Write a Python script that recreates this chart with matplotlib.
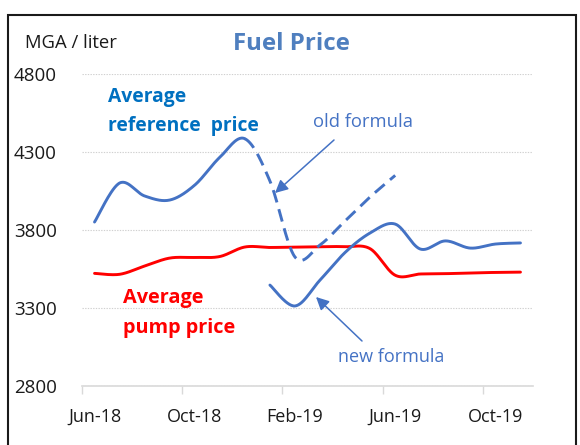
import numpy as np
import matplotlib
matplotlib.use("Agg")
import matplotlib.pyplot as plt
from matplotlib.patches import Rectangle

# ---- data (monthly, Jun-18 .. Nov-19) ----
months = ["Jun-18", "Jul-18", "Aug-18", "Sep-18", "Oct-18", "Nov-18", "Dec-18",
          "Jan-19", "Feb-19", "Mar-19", "Apr-19", "May-19", "Jun-19", "Jul-19",
          "Aug-19", "Sep-19", "Oct-19", "Nov-19"]
# average reference price, old formula: Jun-18 .. Jun-19 (dashed from Dec-18 on)
ref_old = [3851, 4101, 4018, 3992, 4088, 4266, 4385, 4114, 3627, 3704, 3858, 4012, 4150]
old_dashed_from = "Dec-18"
# average reference price, new formula: Jan-19 .. Nov-19
ref_new = [3447, 3313, 3479, 3656, 3781, 3838, 3678, 3730, 3684, 3710, 3717]
# average pump price: Jun-18 .. Nov-19
pump = [3522, 3516, 3569, 3620, 3624, 3630, 3691, 3688, 3691, 3693, 3693,
        3680, 3510, 3518, 3520, 3525, 3528, 3530]
tick_labels = ["Jun-18", "Oct-18", "Feb-19", "Jun-19", "Oct-19"]
y_ticks = [2800, 3300, 3800, 4300, 4800]

W, H = 580, 445
fig = plt.figure(figsize=(W / 100, H / 100), dpi=100)
plt.rcParams['font.family'] = ['Open Sans', 'DejaVu Sans']

L, R, T, B = 82, 533, 74, 386
ax = fig.add_axes([L / W, 1 - B / H, (R - L) / W, (B - T) / H])

def month_x(start_idx, n):
    # Excel date axis: points at the middle of each month
    return np.arange(start_idx, start_idx + n) + 0.5

def excel_smooth(x, y, n=30):
    x = np.asarray(x, float); y = np.asarray(y, float)
    P = np.column_stack([x, y])
    out = [P[0]]
    t = np.linspace(0, 1, n)[1:, None]
    for i in range(len(P) - 1):
        p0 = P[i - 1] if i > 0 else P[i]
        p1, p2 = P[i], P[i + 1]
        p3 = P[i + 2] if i + 2 < len(P) else P[i + 1]
        c1 = p1 + (p2 - p0) / 6.0
        c2 = p2 - (p3 - p1) / 6.0
        seg = ((1 - t) ** 3) * p1 + 3 * ((1 - t) ** 2) * t * c1 + 3 * (1 - t) * t ** 2 * c2 + t ** 3 * p2
        out.extend(seg)
    out = np.array(out)
    return out[:, 0], out[:, 1]

blue = '#4472C4'
red = '#FF0000'
lw = 2.1

sx, sy = excel_smooth(month_x(0, len(pump)), pump)
ax.plot(sx, sy, color=red, lw=lw, solid_capstyle='round', solid_joinstyle='round', zorder=3)

sx, sy = excel_smooth(month_x(0, len(ref_old)), ref_old)
split = months.index(old_dashed_from) + 0.5
m1 = sx <= split
m2 = sx >= split
ax.plot(sx[m1], sy[m1], color=blue, lw=lw, solid_capstyle='round', solid_joinstyle='round', zorder=4)
ax.plot(sx[m2], sy[m2], color=blue, lw=lw, dashes=(4.4, 2.4), zorder=4)

sx, sy = excel_smooth(month_x(months.index("Jan-19"), len(ref_new)), ref_new)
ax.plot(sx, sy, color=blue, lw=lw, solid_capstyle='round', solid_joinstyle='round', zorder=4)

ax.set_xlim(0, len(months))
ax.set_ylim(y_ticks[0], y_ticks[-1])
ax.set_yticks(y_ticks)
ax.set_yticklabels([str(v) for v in y_ticks])
ax.tick_params(axis='y', length=0, pad=18, labelsize=13.5, labelcolor='#1a1a1a')
ax.yaxis.grid(True, color='#D0D0D0', linestyle=(0, (1.2, 1.2)), lw=0.8)
ax.set_axisbelow(True)

tick_idx = [months.index(m) for m in tick_labels]
ax.set_xticks(tick_idx)
ax.set_xticklabels([''] * len(tick_idx))
ax.set_xticks([i + 0.5 for i in tick_idx], minor=True)
ax.set_xticklabels(tick_labels, minor=True)
ax.tick_params(axis='x', which='major', length=6, width=1, color='#D9D9D9', direction='out')
ax.tick_params(axis='x', which='minor', length=0, pad=16, labelsize=13, labelcolor='#1a1a1a')

for s in ['top', 'right', 'left']:
    ax.spines[s].set_visible(False)
ax.spines['bottom'].set_color('#D9D9D9')
ax.spines['bottom'].set_linewidth(1.2)

def fx(px):
    return px / W

def fy(py):
    return 1 - py / H

fig.text(fx(25), fy(43), "MGA / liter", fontsize=13.3, color='#1a1a1a', va='center', ha='left')
fig.text(fx(291), fy(44), "Fuel Price", fontsize=17.3, fontweight='bold', color='#4F7FBF',
         va='center', ha='center')

fig.text(fx(108), fy(102), "Average", fontsize=13.9, fontweight='bold', color='#0070C0',
         va='baseline', ha='left')
fig.text(fx(108), fy(131), "reference  price", fontsize=13.9, fontweight='bold', color='#0070C0',
         va='baseline', ha='left')
fig.text(fx(123), fy(303), "Average", fontsize=14.3, fontweight='bold', color=red,
         va='baseline', ha='left')
fig.text(fx(123), fy(333), "pump price", fontsize=14.3, fontweight='bold', color=red,
         va='baseline', ha='left')

fig.text(fx(313), fy(127), "old formula", fontsize=13.2, color=blue, va='baseline', ha='left')
fig.text(fx(338), fy(362), "new formula", fontsize=13.0, color=blue, va='baseline', ha='left')

arrow_props = dict(arrowstyle='-|>,head_length=0.7,head_width=0.35', lw=1.1, color=blue,
                   mutation_scale=11, shrinkA=0, shrinkB=0)
ax.annotate('', xy=(275, H - 193), xycoords='figure pixels',
            xytext=(334, H - 140), textcoords='figure pixels', arrowprops=arrow_props)
ax.annotate('', xy=(316, H - 297), xycoords='figure pixels',
            xytext=(362, H - 341), textcoords='figure pixels', arrowprops=arrow_props)

fig.patches.append(Rectangle((fx(8), -0.05), fx(576 - 8), fy(15) + 0.05, transform=fig.transFigure,
                             fill=False, ec='#1a1a1a', lw=1.5, clip_on=False))

fig.savefig("out.png", dpi=100)
